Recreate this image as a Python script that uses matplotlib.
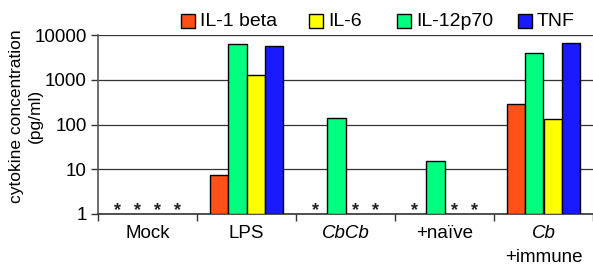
import matplotlib
matplotlib.use("Agg")
import matplotlib.pyplot as plt
import numpy as np
from matplotlib.patches import Rectangle
import matplotlib.transforms as mtransforms

plt.rcParams['font.family'] = ['Liberation Sans', 'DejaVu Sans']

groups = ["Mock", "LPS", "CbCb", "+naïve", "Cb"]
group_italic = [False, False, True, False, True]
group_sub = ["", "", "", "", "+immune"]
# bar order within groups
series = ["IL-1 beta", "IL-12p70", "IL-6", "TNF"]
colors = {"IL-1 beta": "#FF5019", "IL-12p70": "#00FF7F", "IL-6": "#FFFF00", "TNF": "#1A1AFF"}
# None = not detected (asterisk)
il1b = [None, 7.3, None, None, 280]
il12 = [None, 6400, 137, 15, 3900]
il6 = [None, 1250, None, None, 132]
tnf = [None, 5700, None, None, 6600]
values = {"IL-1 beta": il1b, "IL-12p70": il12, "IL-6": il6, "TNF": tnf}
legend_order = ["IL-1 beta", "IL-6", "IL-12p70", "TNF"]
yticks = [1, 10, 100, 1000, 10000]

W, H = 593, 264
fig = plt.figure(figsize=(W/100, H/100), dpi=100)
ax = fig.add_axes([98/W, 1-214/H, 495/W, (214-35)/H])
ax.set_yscale('log')
ax.set_ylim(1, 10000)
ax.set_xlim(0, len(groups))

bw = 0.185
x = np.arange(len(groups)) + 0.5
for i, s in enumerate(series):
    off = (i - 1.5) * bw
    for g, v in enumerate(values[s]):
        if v is None:
            ax.text(x[g] + off * 1.1, 1.2, "*", ha='center', va='center', fontsize=13,
                    fontweight='bold', color='#222222')
        else:
            ax.bar(x[g] + off, v - 1, bottom=1, width=bw, color=colors[s],
                   edgecolor='black', linewidth=1.0, zorder=3)

ax.set_yticks(yticks)
ax.set_yticklabels([str(t) for t in yticks], fontsize=13.5)
ax.yaxis.set_minor_locator(matplotlib.ticker.NullLocator())
ax.grid(axis='y', which='major', color='#333333', linewidth=0.9, zorder=0)
ax.set_axisbelow(True)

ax.set_xticks(np.arange(len(groups) + 1))
ax.set_xticklabels([])
ax.tick_params(axis='x', length=5, width=1, color='#333333', direction='out')
ax.tick_params(axis='y', length=5, width=1, color='#333333', direction='out', pad=3)

blend = mtransforms.blended_transform_factory(ax.transData, fig.transFigure)
for g, lab in enumerate(groups):
    ax.text(x[g], 1 - 234/H, lab, transform=blend, ha='center', va='center', fontsize=13.5,
            style='italic' if group_italic[g] else 'normal')
    if group_sub[g]:
        ax.text(x[g], 1 - 257/H, group_sub[g], transform=blend,
                ha='center', va='center', fontsize=13.5)

for sp in ['top', 'right']:
    ax.spines[sp].set_visible(False)
ax.spines['left'].set_color('#555555')
ax.spines['bottom'].set_color('#333333')
ax.spines['left'].set_linewidth(1.2)
ax.spines['bottom'].set_linewidth(1.2)

fig.text(17/W, 1-116/H, "cytokine concentration", rotation=90, ha='center', va='center', fontsize=12.5)
fig.text(35/W, 1-116/H, "(pg/ml)", rotation=90, ha='center', va='center', fontsize=12.5)

# legend
leg_x = [181, 309, 397, 518]
for s, lx in zip(legend_order, leg_x):
    fig.patches.append(Rectangle((lx/W, 1-28/H), 14/W, 14/H, transform=fig.transFigure,
                                 facecolor=colors[s], edgecolor='black', linewidth=1.0))
    fig.text((lx+19)/W, 1-21/H, s, ha='left', va='center', fontsize=14)

fig.savefig("out.png", dpi=100)
